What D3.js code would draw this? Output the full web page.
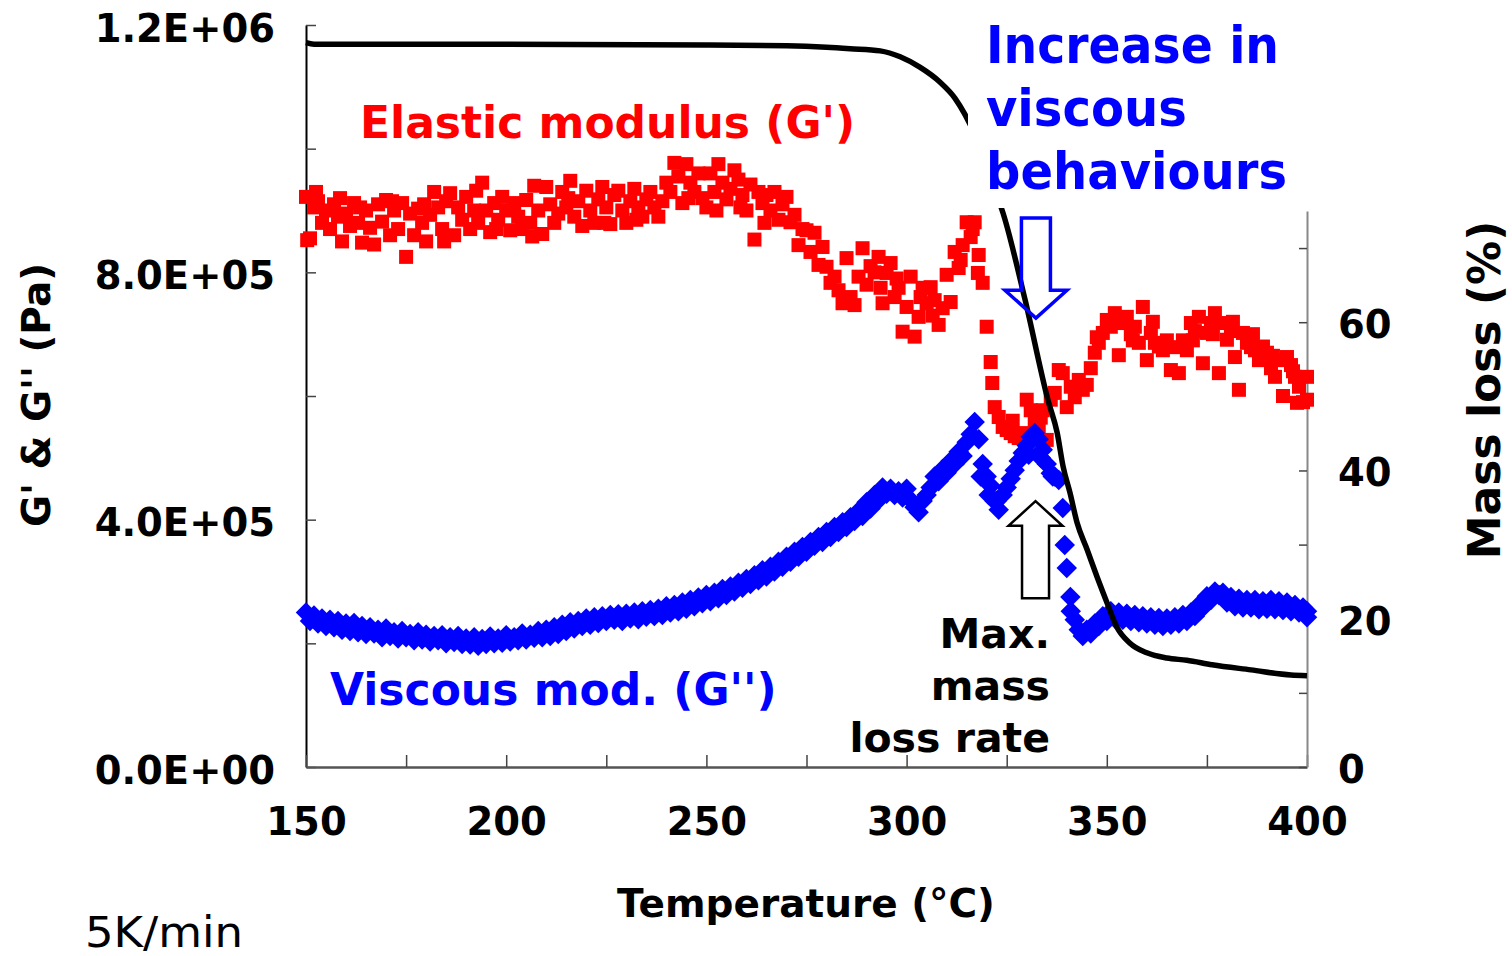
<!DOCTYPE html>
<html lang="en">
<head>
  <meta charset="UTF-8">
  <title>G', G'' and mass loss</title>
  <style>
    body{ margin:0; background:#fff; }
    svg{ display:block; font-family:"DejaVu Sans", Verdana, sans-serif; }
  </style>
</head>
<body>
<svg width="1512" height="956"></svg>

<script src="https://cdn.jsdelivr.net/npm/d3@7/dist/d3.min.js"></script>
<script>
  // one rheometer reading per degree, 150..400 °C (values in kPa)
  var tempStart = 150;
  var elastic = [
    922,855,905,915,880,900,870,910,890,850,
    895,875,912,880,848,900,872,845,910,882,
    917,860,900,870,912,825,895,860,903,880,
    850,893,930,905,870,915,928,860,905,885,
    922,870,900,880,945,900,865,912,885,922,
    900,868,912,890,870,917,880,940,900,862,
    938,910,880,895,
    930,905,948,890,915,875,
    932,900,880,918,938,905,878,925,932,900,
    880,915,935,905,890,918,930,905,890,915,
    945,930,977,955,912,975,945,930,960,920,
    905,960,930,975,945,918,935,965,950,925,
    900,942,853,930,912,925,900,930,
    885,910,
    922,881,893,844,870,868,833,864,812,841,
    809,783,793,771,750,823,760,747,793,839,
    780,810,800,825,750,799,815,760,775,704,
    744,793,696,728,775,750,776,755,715,742,
    796,752,833,807,844,881,857,881,828,783,
    712,655,
    582,566,550,545,540,535,532,540,594,577,
    556,545,577,529,594,605,642,637,582,615,
    598,626,
    610,618,645,670,686,702,723,712,734,666,
    718,728,700,712,686,744,658,702,686,680,
    674,690,642,679,637,690,674,718,705,728,
    653,702,718,734,637,718,691,705,663,610,
    702,686,679,674,658,680,670,645,631,658,
    600,663,650,631,615,590,631
  ];
  // extra G' readings lying between the whole degrees
  var elasticExtra = [
    [150.3,852],[152.5,930],[158.5,920],[163.5,905],[171.5,915],[179.5,910],[184.5,850],
    [192.5,932],[197.5,870],[206.5,858],[215.5,920],[224.5,880],[232.5,885],[245.5,920],
    [252.5,900],[258.5,905],[264.5,880],[293.5,775],[297.5,790],[303.5,760],[306.5,730],
    [313.5,820],[316.5,870],[317.8,799],[321.4,621],[326.5,560],[333.5,565],[347.5,695],
    [356.5,690],[361.5,720],[371.5,690],[376.5,700],[381.5,720],[386.5,700],[391.5,665],
    [396.5,640],[397.5,589],[400,594]
  ];
  var viscous = [
    250,236,245,232,240,228,238,226,236,222,
    232,220,233,218,228,215,226,216,222,210,
    224,212,218,208,220,210,215,205,218,206,
    214,203,212,205,213,200,210,202,212,199,
    208,198,210,196,207,199,211,200,208,201,
    213,203,210,205,216,206,214,209,220,210,
    222,212,226,215,230,220,234,224,236,228,
    240,230,242,233,244,236,246,238,247,236,
    248,240,250,239,252,243,254,244,256,246,
    260,250,262,252,266,256,270,260,274,265,
    278,268,282,273,288,278,292,284,298,290,
    304,296,310,302,318,308,324,316,332,324,
    340,332,348,340,356,348,364,358,372,364,
    380,372,388,380,396,388,404,398,414,406,
    428,418,440,432,452,442,450,440,446,436,
    450,432,420,412,430,440,452,470,462,482,
    476,495,490,510,503,525,538,558,530,490,
    470,455,430,416,440,452,466,480,495,508,
    520,534,540,530,513,490,475,470,464,419,
    322,252,238,222,212,222,216,232,228,244,
    236,252,240,250,238,248,236,246,234,244,
    232,242,230,241,228,240,230,242,232,246,
    236,250,244,262,258,276,270,284,278,282,
    266,275,260,272,258,270,258,270,255,268,
    256,270,255,268,254,266,252,262,250,258,
    242
  ];
  var viscousExtra = [
    [318.5,470],[320.5,440],[322.5,430],[330.5,505],[333.5,500],[336.5,470],
    [339.5,359],[340.9,275],[400,252]
  ];
  // TGA curve: temperature (°C) and remaining mass (%)
  var massTemp = [150,152,200,250,270,280,285.9,293.4,298.4,303.3,308.3,312.1,314.6,319.6,322.1,
    324.1,329.6,335.3,337.6,339.1,340.8,342.6,345.1,347.6,350.1,352.5,355.8,360,365,370,376.3,386,396,400];
  var massVal = [97.7,97.5,97.5,97.4,97.3,97.1,96.9,96.6,95.8,94.4,92.4,90.2,88.0,81.9,77.8,
    74.7,63.0,49.5,45.1,40.5,37.0,32.9,29.3,25.6,22.1,18.9,16.7,15.4,14.7,14.4,13.8,13.1,12.4,12.3];

  var xTicks = [150,175,200,225,250,275,300,325,350,375,400];
  var leftTicks = [0,200,400,600,800,1000,1200];
  var rightTicks = [0,10,20,30,40,50,60,70];

  var svg = d3.select('svg');
  var font = '"DejaVu Sans", Verdana, sans-serif';

  var x = d3.scaleLinear().domain([150, 400]).range([306, 1307]);
  var yL = d3.scaleLinear().domain([0, 1200]).range([767, 25]);
  var yR = d3.scaleLinear().domain([0, 75]).range([767, 211]);

  function sci(v) {
    if (v === 0) return '0.0E+00';
    var pa = v * 1000, e = Math.floor(Math.log10(pa) + 1e-9);
    return (pa / Math.pow(10, e)).toFixed(1) + 'E+' + (e < 10 ? '0' : '') + e;
  }

  var gPrime = elastic.map(function (v, i) { return {t: tempStart + i, v: v}; })
    .concat(elasticExtra.map(function (d) { return {t: d[0], v: d[1]}; }));
  var gSecond = viscous.map(function (v, i) { return {t: tempStart + i, v: v}; })
    .concat(viscousExtra.map(function (d) { return {t: d[0], v: d[1]}; }));
  var mass = massTemp.map(function (t, i) { return {t: t, v: massVal[i]}; });

  //axes
  var gl = svg.append('g').attr('transform', 'translate(306,0)')
    .call(d3.axisLeft(yL).tickValues(leftTicks).tickSize(-10).tickSizeOuter(0).tickPadding(31)
      .tickFormat(function (d) { return d % 400 === 0 ? sci(d) : ''; }));
  var gb = svg.append('g').attr('transform', 'translate(0,767)')
    .call(d3.axisBottom(x).tickValues(xTicks).tickSize(-12).tickSizeOuter(0).tickPadding(41)
      .tickFormat(function (d) { return d % 50 === 0 ? d : ''; }));
  var gr = svg.append('g').attr('transform', 'translate(1307,0)')
    .call(d3.axisRight(yR).tickValues(rightTicks).tickSize(-8).tickSizeOuter(0).tickPadding(31)
      .tickFormat(function (d) { return d % 20 === 0 ? d : ''; }));

  [gl, gb, gr].forEach(function (g) {
    g.attr('font-family', font).attr('font-size', 38.5).attr('font-weight', 'bold');
    g.selectAll('text').attr('fill', '#000');
    g.selectAll('.tick line').attr('stroke', '#444').attr('stroke-width', 1.5);
  });
  gl.selectAll('text').attr('dy', '0.42em');
  gr.selectAll('text').attr('dy', '0.4em');
  gl.select('.domain').attr('stroke', '#000').attr('stroke-width', 2);
  gb.select('.domain').attr('stroke', '#555').attr('stroke-width', 2.5);
  gr.select('.domain').attr('stroke', '#888').attr('stroke-width', 2);

  //G' squares
  svg.append('g').selectAll('rect').data(gPrime).enter().append('rect')
    .attr('x', function (d) { return x(d.t) - 7; })
    .attr('y', function (d) { return yL(d.v) - 7; })
    .attr('width', 14).attr('height', 14)
    .attr('fill', '#ff0000');

  //G'' diamonds
  var diamond = d3.symbol().type(d3.symbolSquare).size(210)();
  svg.append('g').selectAll('path').data(gSecond).enter().append('path')
    .attr('d', diamond)
    .attr('transform', function (d) { return 'translate(' + x(d.t) + ',' + yL(d.v) + ') rotate(45)'; })
    .attr('fill', '#0000ff');

  //mass curve
  var line = d3.line()
    .x(function (d) { return x(d.t); })
    .y(function (d) { return yR(d.v); })
    .curve(d3.curveMonotoneX);
  svg.append('path').datum(mass).attr('d', line)
    .attr('fill', 'none').attr('stroke', '#000').attr('stroke-width', 5.5)
    .attr('stroke-linejoin', 'round');

  //white text box hiding part of the curve
  svg.append('rect').attr('x', 968).attr('y', 0).attr('width', 335).attr('height', 208).attr('fill', '#fff');

  //labels
  function label(txt, px, py, opt) {
    opt = opt || {};
    var t = svg.append('text').attr('x', px).attr('y', py).text(txt)
      .attr('font-family', font)
      .attr('font-size', opt.size || 44)
      .attr('font-weight', opt.weight || 'bold')
      .attr('fill', opt.color || '#000')
      .attr('text-anchor', opt.anchor || 'start');
    if (opt.len) t.attr('textLength', opt.len).attr('lengthAdjust', 'spacingAndGlyphs');
    if (opt.rotate) t.attr('transform', 'rotate(-90,' + px + ',' + py + ')');
    return t;
  }
  label("Elastic modulus (G')", 360, 138, {color: '#ff0000'});
  label("Viscous mod. (G'')", 330, 705, {color: '#0000ff'});
  label('Increase in', 986, 63, {color: '#0000ff', size: 52, len: 293});
  label('viscous', 986, 126, {color: '#0000ff', size: 52, len: 201});
  label('behaviours', 986, 189, {color: '#0000ff', size: 52, len: 301});
  label('Max.', 1050, 648, {size: 41, anchor: 'end'});
  label('mass', 1050, 700, {size: 41, anchor: 'end'});
  label('loss rate', 1050, 752, {size: 41, anchor: 'end'});
  label('Temperature (°C)', 806, 917, {size: 39, anchor: 'middle'});
  label("G' & G'' (Pa)", 50, 395, {size: 39, anchor: 'middle', rotate: true});
  label('Mass loss (%)', 1500, 390, {size: 44, anchor: 'middle', rotate: true});
  label('5K/min', 85, 947, {size: 42, weight: 'normal', len: 158});

  //block arrows, placed in data units
  function arrowPath(cx, yTail, yBase, yTip, shaft, head) {
    return 'M' + (cx - shaft) + ',' + yTail + 'L' + (cx + shaft) + ',' + yTail +
      'L' + (cx + shaft) + ',' + yBase + 'L' + (cx + head) + ',' + yBase +
      'L' + cx + ',' + yTip + 'L' + (cx - head) + ',' + yBase +
      'L' + (cx - shaft) + ',' + yBase + 'Z';
  }
  svg.append('path')
    .attr('d', arrowPath(x(332.3), yL(888), yL(771), yL(726), 14.5, 31))
    .attr('fill', 'none').attr('stroke', '#0000ff').attr('stroke-width', 3.5);
  svg.append('path')
    .attr('d', arrowPath(x(332.2), yL(273), yL(390), yL(430), 13.5, 27))
    .attr('fill', '#fff').attr('stroke', '#000').attr('stroke-width', 2.5);
</script>
</body>
</html>
